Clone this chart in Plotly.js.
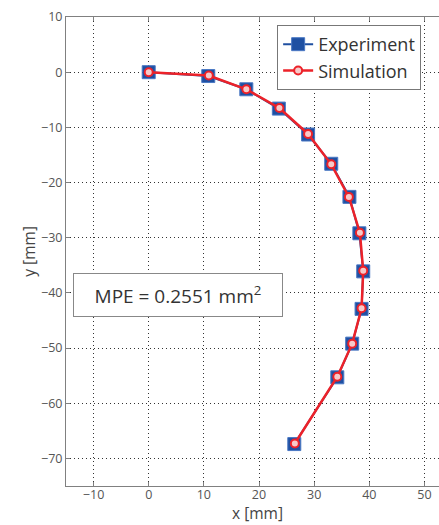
<!DOCTYPE html>
<html>
<head>
<meta charset="utf-8">
<script src="https://cdn.plot.ly/plotly-3.0.1.min.js"></script>
<style>
  html, body { margin: 0; padding: 0; background: #fff; overflow: hidden; }
  #chart { width: 460px; height: 525px; }
</style>
</head>
<body>
<div id="chart"></div>
<script>
// Measured tip trajectory (experiment) and model prediction (simulation), in mm
const expX = [0, 10.8, 17.7, 23.6, 28.9, 33.1, 36.4, 38.2, 38.9, 38.6, 36.9, 34.2, 26.4];
const expY = [0, -0.7, -3.1, -6.6, -11.3, -16.6, -22.6, -29.2, -36.1, -42.9, -49.2, -55.3, -67.4];
const simX = [0, 10.9, 17.7, 23.7, 28.9, 33.1, 36.3, 38.3, 38.9, 38.6, 36.9, 34.2, 26.5];
const simY = [0, -0.6, -3.1, -6.5, -11.2, -16.7, -22.6, -29.1, -36.0, -42.8, -49.2, -55.2, -67.3];

const xTicks = [-10, 0, 10, 20, 30, 40, 50];
const yTicks = [10, 0, -10, -20, -30, -40, -50, -60, -70];

const xTitle = 'x [mm]';
const yTitle = 'y [mm]';
const mpeText = 'MPE = 0.2551 mm<sup>2</sup>';

const font = "'Open Sans', 'Noto Sans', sans-serif";

const traces = [
  {
    x: expX, y: expY, name: 'Experiment', type: 'scatter', mode: 'lines+markers',
    line: { color: '#1f4fa0', width: 2 },
    marker: { symbol: 'square', size: 13, color: '#1f50a2', line: { color: '#4a78c4', width: 1 } }
  },
  {
    x: simX, y: simY, name: 'Simulation', type: 'scatter', mode: 'lines+markers',
    line: { color: '#ec2229', width: 2.5 },
    marker: { symbol: 'circle', size: 8, color: '#f7c9c9', line: { color: '#ec2229', width: 2 } }
  }
];

const axisCommon = {
  showline: true, linecolor: '#808080', linewidth: 1, mirror: 'ticks',
  ticks: 'inside', ticklen: 4, tickcolor: '#808080', tickwidth: 1,
  showgrid: true, gridcolor: '#333', griddash: '1px,3px', gridwidth: 1,
  zeroline: false,
  tickfont: { family: font, size: 12.5, color: '#555' }
};

const titleFont = { family: font, size: 15.5, color: '#444' };

const layout = {
  width: 460, height: 525,
  margin: { l: 66, r: 8, t: 17, b: 39 },
  paper_bgcolor: '#fff', plot_bgcolor: '#fff',
  showlegend: true,
  legend: {
    x: 0.547, y: 0.983, xanchor: 'left', yanchor: 'top',
    bgcolor: '#fff', bordercolor: '#777', borderwidth: 1,
    font: { family: font, size: 18, color: '#333' },
    tracegroupgap: 0
  },
  xaxis: Object.assign({}, axisCommon, { range: [-15, 55], tickvals: xTicks, ticklabelstandoff: -3 }),
  yaxis: Object.assign({}, axisCommon, { range: [-75, 10], tickvals: yTicks }),
  annotations: [
    {
      xref: 'paper', yref: 'paper', x: 0.495, y: -0.0825,
      xanchor: 'center', yanchor: 'bottom', showarrow: false,
      text: xTitle, font: titleFont, borderpad: 0
    },
    {
      xref: 'paper', yref: 'paper', x: -0.098, y: 0.5,
      xanchor: 'center', yanchor: 'middle', showarrow: false, textangle: -90,
      text: yTitle, font: titleFont
    },
    {
      xref: 'paper', yref: 'paper', x: 0.290, y: 0.407,
      xanchor: 'center', yanchor: 'middle', showarrow: false,
      text: mpeText, width: 200, height: 34,
      bgcolor: '#fff', bordercolor: '#888', borderwidth: 1, borderpad: 4,
      font: { family: font, size: 19, color: '#333' }
    }
  ]
};

Plotly.newPlot('chart', traces, layout, { displayModeBar: false, staticPlot: true });
</script>
</body>
</html>
